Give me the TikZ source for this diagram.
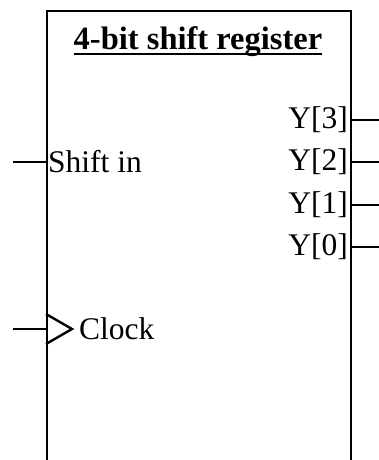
\documentclass[tikz,border=0pt]{standalone}
\usepackage{fontspec}
\setmainfont{Liberation Serif}
\tikzset{pin/.style = {line width=1.6pt},
    box/.style = {draw, line width=1.8pt, inner sep=0pt, anchor=north west},
    lbl/.style = {inner sep=2pt, font=\fontsize{31.5}{36}\selectfont},
    ttl/.style = {inner sep=0pt, font=\bfseries\fontsize{32.5}{38}\selectfont}}

\begin{document}
\begin{tikzpicture}[x=1pt, y=-1pt]
        \useasboundingbox (0,0) rectangle (379,460);
        \clip (0,0) rectangle (379,460);
        \node[box, minimum width=304pt, minimum height=480pt] (reg) at (46,10) {};
        \node[ttl, anchor=base] (title) at (198,50) {4-bit shift register};
        \draw[line width=2.8pt] ([yshift=-4pt]title.base west) -- ([yshift=-4pt]title.base east);

        % outputs
        \foreach \n/\y in {3/120, 2/162, 1/205, 0/247} {
            \node[lbl, anchor=east] (y\n) at (350,\y) {Y[\n]};
            \coordinate (o\n) at (379,\y);
            \draw[pin] (y\n.east) -- (o\n);
        }

        % inputs
        \node[lbl, anchor=west] (shin) at (46,162) {Shift in};
        \coordinate (si) at (13,162);
        \draw[pin] (si) -- (shin.west);

        \coordinate (ck) at (46,329);
        \coordinate (ckin) at (13,329);
        \node[lbl, anchor=west] (clk) at (77,329) {Clock};
        \draw[pin] (ckin) -- (ck);
        \draw[line width=2.4pt, line join=miter] (46,314) -- (72,329) -- (46,344);
    \end{tikzpicture}
\end{document}
